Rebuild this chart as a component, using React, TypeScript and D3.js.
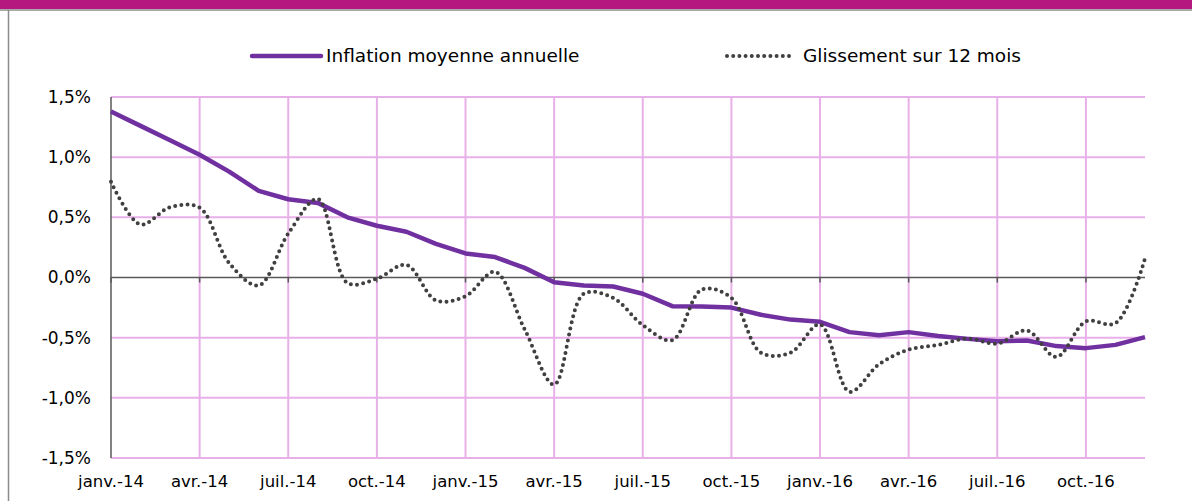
import React from "react";
import * as d3 from "d3";

const months = [
  "janv.-14","févr.-14","mars-14","avr.-14","mai-14","juin-14","juil.-14","août-14","sept.-14","oct.-14","nov.-14","déc.-14",
  "janv.-15","févr.-15","mars-15","avr.-15","mai-15","juin-15","juil.-15","août-15","sept.-15","oct.-15","nov.-15","déc.-15",
  "janv.-16","févr.-16","mars-16","avr.-16","mai-16","juin-16","juil.-16","août-16","sept.-16","oct.-16","nov.-16","déc.-16",
];

const inflationMoyenne = [
  1.38, 1.26, 1.14, 1.02, 0.88, 0.72, 0.65, 0.62, 0.50, 0.43, 0.38, 0.28,
  0.20, 0.17, 0.08, -0.04, -0.066, -0.075, -0.135, -0.238, -0.24, -0.25, -0.31, -0.35,
  -0.368, -0.454, -0.48, -0.454, -0.487, -0.51, -0.53, -0.523, -0.57, -0.587, -0.56, -0.496,
];

const glissement = [
  0.795, 0.44, 0.584, 0.58, 0.12, -0.066, 0.365, 0.653, -0.045, -0.01, 0.105, -0.19,
  -0.155, 0.047, -0.43, -0.89, -0.136, -0.17, -0.396, -0.52, -0.10, -0.17, -0.625, -0.625,
  -0.39, -0.95, -0.72, -0.60, -0.56, -0.507, -0.55, -0.44, -0.66, -0.365, -0.38, 0.158,
];

const yTicks = [1.5, 1.0, 0.5, 0.0, -0.5, -1.0, -1.5];
const xTickLabels = ["janv.-14","avr.-14","juil.-14","oct.-14","janv.-15","avr.-15","juil.-15","oct.-15","janv.-16","avr.-16","juil.-16","oct.-16"];

const seriesNames = ["Inflation moyenne annuelle", "Glissement sur 12 mois"];

const W = 1192, H = 501;
const FONT = "'DejaVu Sans', sans-serif";
const PURPLE = "#7030A0";
const DOT = "#404040";
const GRID = "#E8B0E8";
const AXIS = "#595959";

export default function App() {
  const x = d3.scalePoint<string>().domain(months).range([111, 1145]);
  const y = d3.scaleLinear().domain([-1.5, 1.5]).range([458, 97]);

  const line = d3.line<number>()
    .x((_, i) => x(months[i]) as number)
    .y((d) => y(d));
  const smooth = d3.line<number>()
    .x((_, i) => x(months[i]) as number)
    .y((d) => y(d))
    .curve(d3.curveCatmullRom.alpha(0.5));

  const fmt = (v: number) => v.toFixed(1).replace(".", ",") + "%";

  return (
    <svg width={W} height={H} style={{ position: "absolute", left: 0, top: 0, background: "#fff" }}>
      <rect x={0} y={0} width={W} height={9} fill="#B5197F" />
      <line x1={0} x2={W} y1={10} y2={10} stroke="#8c8c8c" strokeWidth={1.5} />
      <line x1={8.5} x2={8.5} y1={10} y2={H} stroke="#8c8c8c" strokeWidth={1.5} />

      {/* horizontal grid */}
      {yTicks.filter((t) => t !== 0).map((t) => (
        <line key={"h" + t} x1={111} x2={1145} y1={y(t)} y2={y(t)} stroke={GRID} strokeWidth={2} />
      ))}
      {/* vertical grid */}
      {xTickLabels.slice(1).map((m) => (
        <line key={"v" + m} x1={x(m)} x2={x(m)} y1={y(1.5)} y2={y(-1.5)} stroke={GRID} strokeWidth={2} />
      ))}
      {/* zero axis */}
      <line x1={111} x2={1145} y1={y(0)} y2={y(0)} stroke={AXIS} strokeWidth={1.5} />
      {xTickLabels.map((m) => (
        <line key={"t" + m} x1={x(m)} x2={x(m)} y1={y(0)} y2={y(0) + 5} stroke={AXIS} strokeWidth={1.5} />
      ))}
      {/* left axis */}
      <line x1={111} x2={111} y1={y(1.5)} y2={y(-1.5)} stroke={AXIS} strokeWidth={1.5} />

      {/* y labels */}
      {yTicks.map((t) => (
        <text key={"yl" + t} x={91} y={y(t)} dy="0.35em" textAnchor="end" fontFamily={FONT} fontSize={17} fill="#000">
          {fmt(t)}
        </text>
      ))}
      {/* x labels */}
      {xTickLabels.map((m) => (
        <text key={"xl" + m} x={x(m)} y={487} textAnchor="middle" fontFamily={FONT} fontSize={16.5} fill="#000">
          {m}
        </text>
      ))}

      {/* series */}
      <path d={line(inflationMoyenne) || ""} fill="none" stroke={PURPLE} strokeWidth={4.5} strokeLinejoin="round" />
      <path d={smooth(glissement) || ""} fill="none" stroke={DOT} strokeWidth={4} strokeDasharray="0 6.2" strokeLinecap="round" />

      {/* legend */}
      <line x1={252} x2={321} y1={56} y2={56} stroke={PURPLE} strokeWidth={4.5} strokeLinecap="round" />
      <text x={326} y={56} dy="0.35em" fontFamily={FONT} fontSize={18.5} fill="#000">{seriesNames[0]}</text>
      <line x1={727} x2={794} y1={56} y2={56} stroke={DOT} strokeWidth={4} strokeDasharray="0 6.2" strokeLinecap="round" />
      <text x={803} y={56} dy="0.35em" fontFamily={FONT} fontSize={18.5} fill="#000">{seriesNames[1]}</text>
    </svg>
  );
}
